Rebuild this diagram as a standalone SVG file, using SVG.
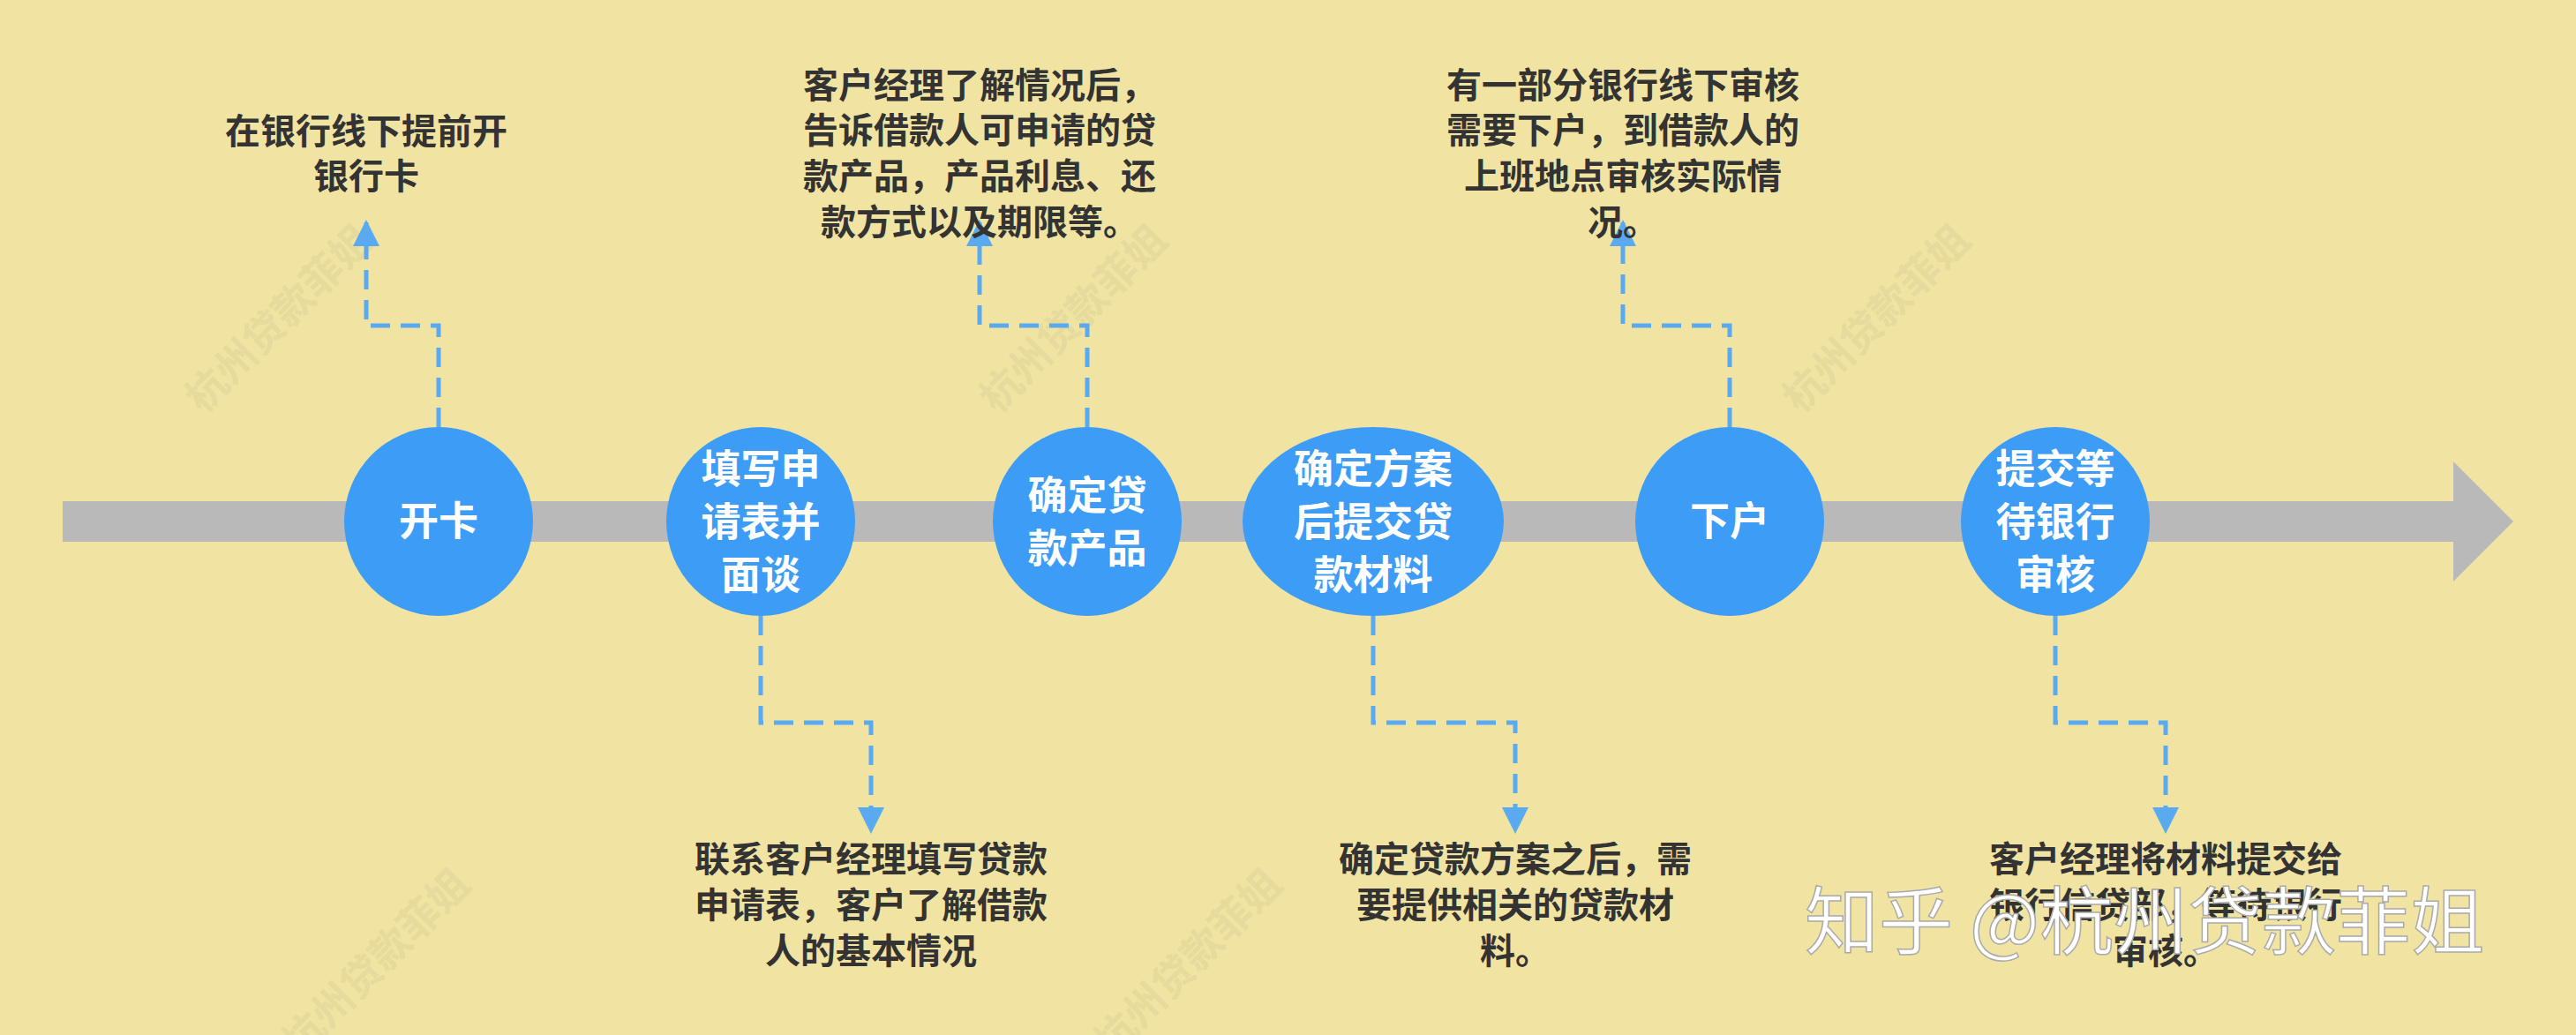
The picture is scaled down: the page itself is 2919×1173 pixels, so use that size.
<svg xmlns="http://www.w3.org/2000/svg" width="2919" height="1173" viewBox="0 0 2919 1173">
<defs>
<style>
.c{fill:#3d9cf5}
.ct{fill:#fff;font-family:"Noto Sans CJK SC","Liberation Sans",sans-serif;font-weight:bold;font-size:45px;text-anchor:middle}
.t{fill:#333;font-family:"Noto Sans CJK SC","Liberation Sans",sans-serif;font-weight:bold;font-size:40px;text-anchor:middle}
.d{fill:none;stroke:#5aaaf2;stroke-width:5;stroke-dasharray:22 12}
.w{fill:#e0d49a;font-family:"Noto Sans CJK SC",sans-serif;font-size:46px;font-weight:bold;opacity:0.6}
</style>
<marker id="a" viewBox="0 0 10 10" refX="9" refY="5" markerWidth="6" markerHeight="7" orient="auto" markerUnits="strokeWidth"><path d="M0,0L10,5L0,10z" fill="#5aaaf2"/></marker>
</defs>
<rect width="2919" height="1173" fill="#f1e4a2"/>
<g id="watermarks">
<text class="w" transform="translate(230,470) rotate(-45)">杭州贷款菲姐</text>
<text class="w" transform="translate(1130,470) rotate(-45)">杭州贷款菲姐</text>
<text class="w" transform="translate(2040,470) rotate(-45)">杭州贷款菲姐</text>
<text class="w" transform="translate(340,1200) rotate(-45)">杭州贷款菲姐</text>
<text class="w" transform="translate(1260,1200) rotate(-45)">杭州贷款菲姐</text>
</g>
<g id="axis">
<rect x="71" y="568" width="2715" height="46" fill="#b9b9b9"/>
<path d="M2780,523L2848,591L2780,659z" fill="#b9b9b9"/>
</g>
<g id="connectors">
<path class="d" marker-end="url(#a)" d="M497,484V369H415V252"/>
<path class="d" marker-end="url(#a)" d="M1232,484V369H1110V252"/>
<path class="d" marker-end="url(#a)" d="M1960,484V369H1839V252"/>
<path class="d" marker-end="url(#a)" d="M862,698V819H987V942"/>
<path class="d" marker-end="url(#a)" d="M1556,698V819H1717V942"/>
<path class="d" marker-end="url(#a)" d="M2329,698V819H2454V942"/>
</g>
<g id="n1"><circle class="c" cx="497" cy="591" r="107"/><text class="ct" x="497" y="607">开卡</text></g>
<g id="n2"><circle class="c" cx="862" cy="591" r="107"/><text class="ct" x="862" y="548">填写申</text><text class="ct" x="862" y="608">请表并</text><text class="ct" x="862" y="668">面谈</text></g>
<g id="n3"><circle class="c" cx="1232" cy="591" r="107"/><text class="ct" x="1232" y="578">确定贷</text><text class="ct" x="1232" y="638">款产品</text></g>
<g id="n4"><ellipse class="c" cx="1556" cy="591" rx="148" ry="107"/><text class="ct" x="1556" y="548">确定方案</text><text class="ct" x="1556" y="608">后提交贷</text><text class="ct" x="1556" y="668">款材料</text></g>
<g id="n5"><circle class="c" cx="1960" cy="591" r="107"/><text class="ct" x="1960" y="607">下户</text></g>
<g id="n6"><circle class="c" cx="2329" cy="591" r="107"/><text class="ct" x="2329" y="548">提交等</text><text class="ct" x="2329" y="608">待银行</text><text class="ct" x="2329" y="668">审核</text></g>
<g id="labels">
<text class="t" x="415" y="163">在银行线下提前开</text><text class="t" x="415" y="214">银行卡</text>
<text class="t" x="1110" y="111">客户经理了解情况后，</text><text class="t" x="1110" y="162">告诉借款人可申请的贷</text><text class="t" x="1110" y="214">款产品，产品利息、还</text><text class="t" x="1110" y="266">款方式以及期限等。</text>
<text class="t" x="1839" y="111">有一部分银行线下审核</text><text class="t" x="1839" y="162">需要下户，到借款人的</text><text class="t" x="1839" y="214">上班地点审核实际情</text><text class="t" x="1839" y="266">况。</text>
<text class="t" x="987" y="988">联系客户经理填写贷款</text><text class="t" x="987" y="1040">申请表，客户了解借款</text><text class="t" x="987" y="1092">人的基本情况</text>
<text class="t" x="1717" y="988">确定贷款方案之后，需</text><text class="t" x="1717" y="1040">要提供相关的贷款材</text><text class="t" x="1717" y="1092">料。</text>
<text class="t" x="2454" y="988">客户经理将材料提交给</text><text class="t" x="2454" y="1040">银行信贷部，等待银行</text><text class="t" x="2454" y="1092">审核。</text>
</g>
<text x="2045" y="1075" font-family="Noto Sans CJK SC,sans-serif" font-size="84" fill="#fff" stroke="#aaa" stroke-width="1.5">知乎 @杭州贷款菲姐</text>
</svg>
